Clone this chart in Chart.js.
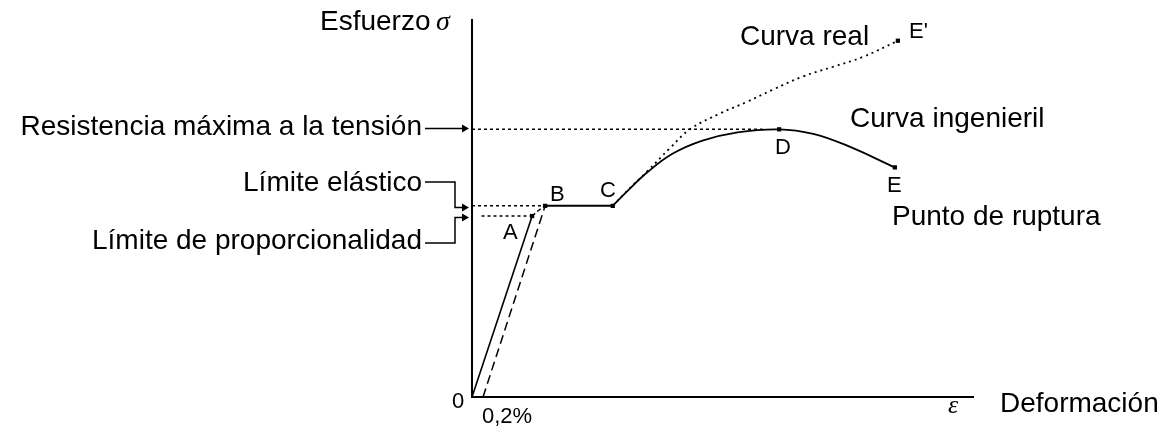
<!DOCTYPE html>
<html>
<head>
<meta charset="utf-8">
<script src="https://cdn.jsdelivr.net/npm/chart.js@4.4.1/dist/chart.umd.min.js"></script>
<style>
  html, body { margin: 0; padding: 0; background: #fff; }
  #wrap { width: 1173px; height: 428px; }
</style>
</head>
<body>
<div id="wrap"><canvas id="c" width="1173" height="428"></canvas></div>
<script>
// ---- Data (strain in arbitrary units, stress in arbitrary units) ----
const elasticX = [0, 12.0];          // O -> A (proportional limit)
const elasticY = [0, 48.0];
const bendX = [12.0, 13.4, 14.6];    // A -> B
const bendY = [48.0, 49.6, 50.7];
const offsetX = [2.2, 14.6];         // 0.2% offset line -> B
const offsetY = [0, 50.7];
const plateauX = [14.6, 28.1];       // B -> C
const plateauY = [50.7, 50.7];
const engX = [28.1, 31.0, 35.0, 40.0, 46.0, 53.0, 61.3, 68.1, 75.0, 84.4]; // C -> D -> E
const engY = [50.7, 54.6, 59.6, 64.5, 68.0, 70.2, 71.0, 69.8, 66.6, 60.9];
const realX = [28.1, 31.0, 35.0, 39.5, 43.5, 49.5, 54.9, 60.0, 66.0, 72.1, 78.0, 85.0]; // C -> E'
const realY = [50.7, 54.7, 59.9, 66.0, 71.0, 75.2, 78.3, 81.5, 85.0, 87.6, 90.2, 94.5];
const uts = 71.0;             // ultimate tensile strength level
const yieldStress = 50.7;     // elastic limit level
const propStress = 48.0;      // proportional limit level
const utsLineEndX = 58;
const propLineStartX = 1.9;
const markerNames = ['A', 'B', 'C', 'D', 'E', "E'"];
const markerX = [12.0, 14.6, 28.1, 61.3, 84.4, 85.0];
const markerY = [48.0, 50.7, 50.7, 71.0, 60.9, 94.5];

const toPts = (xs, ys) => xs.map((x, i) => ({ x, y: ys[i] }));

const base = { showLine: true, pointRadius: 0, borderColor: '#000', fill: false, clip: false };

const FONT = "'Liberation Sans', Arial, sans-serif";

const labels = [
  { t: 'Esfuerzo', x: 320, y: 30, a: 'left', f: '28px ' + FONT },
  { t: 'σ', x: 436, y: 30, a: 'left', f: "italic 28px 'Liberation Serif', serif" },
  { t: 'Resistencia máxima a la tensión', x: 422, y: 135, a: 'right', f: '28px ' + FONT },
  { t: 'Límite elástico', x: 422, y: 191, a: 'right', f: '28px ' + FONT },
  { t: 'Límite de proporcionalidad', x: 422, y: 249, a: 'right', f: '28px ' + FONT },
  { t: 'Curva real', x: 740, y: 45, a: 'left', f: '28px ' + FONT },
  { t: "E'", x: 909, y: 38, a: 'left', f: '22px ' + FONT },
  { t: 'Curva ingenieril', x: 850, y: 127, a: 'left', f: '28px ' + FONT },
  { t: 'Punto de ruptura', x: 892, y: 225, a: 'left', f: '28px ' + FONT },
  { t: 'A', x: 503, y: 239, a: 'left', f: '22px ' + FONT },
  { t: 'B', x: 550, y: 201, a: 'left', f: '22px ' + FONT },
  { t: 'C', x: 600, y: 197, a: 'left', f: '22px ' + FONT },
  { t: 'D', x: 775, y: 154, a: 'left', f: '22px ' + FONT },
  { t: 'E', x: 887, y: 192, a: 'left', f: '22px ' + FONT },
  { t: '0', x: 452, y: 408, a: 'left', f: '22px ' + FONT },
  { t: '0,2%', x: 482, y: 423, a: 'left', f: '22px ' + FONT },
  { t: 'ε', x: 948, y: 413, a: 'left', f: "italic 26px 'Liberation Serif', serif" },
  { t: 'Deformación', x: 1000, y: 412, a: 'left', f: '28px ' + FONT }
];

function arrowHead(ctx, x, y) {
  ctx.beginPath();
  ctx.moveTo(x - 6, y - 4);
  ctx.lineTo(x + 1, y);
  ctx.lineTo(x - 6, y + 4);
  ctx.closePath();
  ctx.fill();
}

const annot = {
  id: 'annot',
  afterDraw(chart) {
    const ctx = chart.ctx;
    const ys = chart.scales.y;
    ctx.save();
    ctx.fillStyle = '#000';
    ctx.textBaseline = 'alphabetic';
    labels.forEach(l => {
      ctx.font = l.f;
      ctx.textAlign = l.a;
      ctx.fillText(l.t, l.x, l.y);
    });
    ctx.strokeStyle = '#000';
    ctx.lineWidth = 1.5;
    ctx.setLineDash([]);
    const tipX = chart.chartArea.left - 4;
    // UTS arrow
    const yU = Math.round(ys.getPixelForValue(uts)) - 0.5;
    ctx.beginPath(); ctx.moveTo(425, yU); ctx.lineTo(tipX - 4, yU); ctx.stroke();
    arrowHead(ctx, tipX, yU);
    // elastic limit
    const yE = Math.round(ys.getPixelForValue(yieldStress)) + 1.5;
    ctx.beginPath(); ctx.moveTo(425, 182); ctx.lineTo(455, 182); ctx.lineTo(455, yE); ctx.lineTo(tipX - 4, yE); ctx.stroke();
    arrowHead(ctx, tipX, yE);
    // proportional limit
    const yP = Math.round(ys.getPixelForValue(propStress)) + 1.5;
    ctx.beginPath(); ctx.moveTo(425, 243); ctx.lineTo(455, 243); ctx.lineTo(455, yP); ctx.lineTo(tipX - 4, yP); ctx.stroke();
    arrowHead(ctx, tipX, yP);
    ctx.restore();
  }
};

new Chart(document.getElementById('c'), {
  type: 'scatter',
  data: {
    datasets: [
      { ...base, data: toPts(elasticX, elasticY), borderWidth: 1.6 },
      { ...base, data: toPts(bendX, bendY), borderWidth: 1.5, borderDash: [4, 3], tension: 0.4 },
      { ...base, data: toPts(offsetX, offsetY), borderWidth: 1.5, borderDash: [9, 5] },
      { ...base, data: toPts(plateauX, plateauY), borderWidth: 2 },
      { ...base, data: toPts(engX, engY), borderWidth: 1.8, tension: 0.4 },
      { ...base, data: toPts(realX, realY), borderWidth: 1.8, borderDash: [2, 4], tension: 0.4 },
      { ...base, data: [{ x: 0, y: uts }, { x: utsLineEndX, y: uts }], borderWidth: 1.5, borderDash: [3, 3] },
      { ...base, data: [{ x: 0, y: yieldStress }, { x: markerX[1], y: yieldStress }], borderWidth: 1.5, borderDash: [3, 3] },
      { ...base, data: [{ x: propLineStartX, y: propStress }, { x: markerX[0], y: propStress }], borderWidth: 1.5, borderDash: [3, 3] },
      { showLine: false, data: toPts(markerX, markerY), pointStyle: 'rect', pointRadius: 3,
        pointBackgroundColor: '#000', pointBorderColor: '#000', pointBorderWidth: 0, clip: false }
    ]
  },
  options: {
    responsive: false,
    animation: false,
    devicePixelRatio: 1,
    layout: { padding: { left: 472, right: 200, top: 20, bottom: 31 } },
    plugins: { legend: { display: false }, tooltip: { enabled: false } },
    scales: {
      x: { type: 'linear', min: 0, max: 100,
           grid: { display: false, drawTicks: false }, ticks: { display: false },
           border: { display: true, color: '#000', width: 2 } },
      y: { type: 'linear', min: 0, max: 100,
           grid: { display: false, drawTicks: false }, ticks: { display: false },
           border: { display: true, color: '#000', width: 2 } }
    }
  },
  plugins: [annot]
});
</script>
</body>
</html>
